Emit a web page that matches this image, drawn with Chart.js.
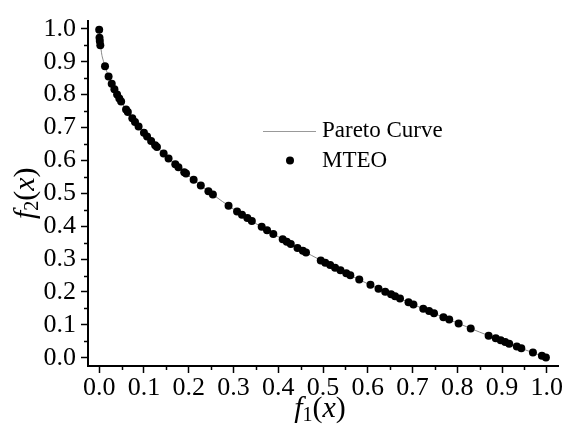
<!DOCTYPE html>
<html>
<head>
<meta charset="utf-8">
<script src="https://cdn.jsdelivr.net/npm/chart.js@4.4.0/dist/chart.umd.min.js"></script>
<style>
  html, body { margin: 0; padding: 0; background: #fff; }
  #wrap { width: 564px; height: 432px; }
</style>
</head>
<body>
<div id="wrap"><canvas id="front"></canvas></div>
<script>
// obtained solutions (f1, f2)
const mteoF1 = [0.000, 0.0007, 0.0014, 0.0025, 0.013, 0.021, 0.028, 0.034, 0.040, 0.045,
    0.049, 0.060, 0.064, 0.074, 0.080, 0.088, 0.100, 0.107, 0.116, 0.125,
    0.129, 0.144, 0.155, 0.170, 0.177, 0.190, 0.194, 0.211, 0.227, 0.244,
    0.254, 0.289, 0.308, 0.319, 0.331, 0.341, 0.363, 0.375, 0.389, 0.410,
    0.419, 0.428, 0.443, 0.455, 0.462, 0.495, 0.505, 0.516, 0.527, 0.539,
    0.552, 0.561, 0.581, 0.606, 0.624, 0.639, 0.652, 0.661, 0.672, 0.691,
    0.702, 0.724, 0.737, 0.748, 0.769, 0.782, 0.803, 0.830, 0.870, 0.886,
    0.897, 0.907, 0.916, 0.933, 0.943, 0.969, 0.989, 0.998];
const mteoF2 = [0.997, 0.973, 0.963, 0.950, 0.886, 0.855, 0.833, 0.816, 0.800, 0.788,
    0.779, 0.755, 0.747, 0.728, 0.717, 0.703, 0.684, 0.673, 0.659, 0.646,
    0.641, 0.621, 0.606, 0.588, 0.579, 0.564, 0.560, 0.541, 0.524, 0.506,
    0.496, 0.462, 0.445, 0.435, 0.425, 0.416, 0.398, 0.388, 0.376, 0.360,
    0.353, 0.346, 0.334, 0.325, 0.320, 0.296, 0.289, 0.282, 0.274, 0.266,
    0.257, 0.251, 0.238, 0.222, 0.210, 0.201, 0.193, 0.187, 0.180, 0.169,
    0.162, 0.149, 0.142, 0.135, 0.123, 0.116, 0.104, 0.089, 0.067, 0.059,
    0.053, 0.048, 0.043, 0.034, 0.029, 0.016, 0.006, 0.001];

// true pareto front
const curveF1 = [0, 0.005, 0.01, 0.02, 0.04, 0.06, 0.08, 0.10, 0.15, 0.20, 0.25, 0.30, 0.35,
    0.40, 0.45, 0.50, 0.55, 0.60, 0.65, 0.70, 0.75, 0.80, 0.85, 0.90, 0.95, 1.0];
const curveF2 = [1.0, 0.929, 0.900, 0.859, 0.800, 0.755, 0.717, 0.684, 0.613, 0.553, 0.500, 0.452, 0.408,
    0.368, 0.329, 0.293, 0.258, 0.225, 0.194, 0.163, 0.134, 0.106, 0.078, 0.051, 0.025, 0.0];

const xTicks = [0, 0.1, 0.2, 0.3, 0.4, 0.5, 0.6, 0.7, 0.8, 0.9, 1.0];
const yTicks = [0, 0.1, 0.2, 0.3, 0.4, 0.5, 0.6, 0.7, 0.8, 0.9, 1.0];
const minorTicks = [0.05, 0.15, 0.25, 0.35, 0.45, 0.55, 0.65, 0.75, 0.85, 0.95];

const serif = "'Liberation Serif', 'Times New Roman', serif";

function toPts(xs, ys) {
    return xs.map((x, i) => ({ x: x, y: ys[i] }));
}

// f, subscript, (x)
function drawLabel(ctx, sub, cx, cy) {
    const parts = [
        { t: "f", font: "italic 30px " + serif, dy: 0 },
        { t: sub, font: "20px " + serif, dy: 7 },
        { t: "(", font: "30px " + serif, dy: 0 },
        { t: "x", font: "italic 30px " + serif, dy: 0 },
        { t: ")", font: "30px " + serif, dy: 0 },
    ];
    let w = 0;
    parts.forEach((p) => {
        ctx.font = p.font;
        p.w = ctx.measureText(p.t).width;
        w += p.w;
    });
    let x = cx - w / 2;
    ctx.textBaseline = "middle";
    ctx.textAlign = "left";
    parts.forEach((p) => {
        ctx.font = p.font;
        ctx.fillText(p.t, x, cy + p.dy);
        x += p.w;
    });
}

const extras = {
    id: "extras",
    afterDraw(chart) {
        const ctx = chart.ctx;
        const xs = chart.scales.x;
        const ys = chart.scales.y;
        const area = chart.chartArea;
        ctx.save();
        ctx.strokeStyle = "#000";
        ctx.lineWidth = 1.5;
        // minor ticks
        minorTicks.forEach((v) => {
            const px = Math.round(xs.getPixelForValue(v)) + 0.5;
            ctx.beginPath();
            ctx.moveTo(px, area.bottom);
            ctx.lineTo(px, area.bottom + 4);
            ctx.stroke();
            const py = Math.round(ys.getPixelForValue(v)) + 0.5;
            ctx.beginPath();
            ctx.moveTo(area.left, py);
            ctx.lineTo(area.left - 4, py);
            ctx.stroke();
        });

        ctx.fillStyle = "#000";
        // axis titles
        drawLabel(ctx, "1", (area.left + area.right) / 2 - 3, 409);
        ctx.save();
        ctx.translate(26, (area.top + area.bottom) / 2);
        ctx.rotate(-Math.PI / 2);
        drawLabel(ctx, "2", 0, 0);
        ctx.restore();

        // legend
        ctx.strokeStyle = "#999";
        ctx.lineWidth = 1;
        ctx.beginPath();
        ctx.moveTo(263, 131.5);
        ctx.lineTo(316, 131.5);
        ctx.stroke();
        ctx.beginPath();
        ctx.arc(290, 160.5, 4, 0, Math.PI * 2);
        ctx.fill();
        ctx.font = "23px " + serif;
        ctx.textAlign = "left";
        ctx.textBaseline = "middle";
        ctx.fillText("Pareto Curve", 322, 131);
        ctx.fillText("MTEO", 322, 161);
        ctx.restore();
    },
};

const ctx = document.getElementById("front").getContext("2d");

const tickFont = { family: serif, size: 26 };

const config = {
    type: "scatter",
    data: {
        datasets: [
            {
                label: "MTEO",
                data: toPts(mteoF1, mteoF2),
                pointRadius: 4,
                pointBackgroundColor: "#000",
                pointBorderWidth: 0,
                order: 1,
            },
            {
                label: "Pareto Curve",
                data: toPts(curveF1, curveF2),
                showLine: true,
                pointRadius: 0,
                borderColor: "#888",
                borderWidth: 1,
                cubicInterpolationMode: "monotone",
                order: 2,
            },
        ],
    },
    options: {
        responsive: true,
        maintainAspectRatio: false,
        animation: false,
        layout: { padding: { top: 7, right: 6, left: 0, bottom: 0 } },
        plugins: {
            legend: { display: false },
            tooltip: { enabled: false },
        },
        scales: {
            x: {
                type: "linear",
                min: -0.025,
                max: 1.025,
                afterFit: (s) => { s.height = 66; },
                afterBuildTicks: (s) => { s.ticks = xTicks.map((v) => ({ value: v })); },
                border: { display: true, color: "#000", width: 2 },
                grid: { drawOnChartArea: false, color: "#000", tickLength: 7, tickWidth: 1.5 },
                ticks: {
                    color: "#000",
                    font: tickFont,
                    padding: 0,
                    maxRotation: 0,
                    autoSkip: false,
                    callback: (v) => Number(v).toFixed(1),
                },
            },
            y: {
                type: "linear",
                min: -0.025,
                max: 1.025,
                afterFit: (s) => { s.width = 88; },
                afterBuildTicks: (s) => { s.ticks = yTicks.map((v) => ({ value: v })); },
                border: { display: true, color: "#000", width: 2 },
                grid: { drawOnChartArea: false, color: "#000", tickLength: 7, tickWidth: 1.5 },
                ticks: {
                    color: "#000",
                    font: tickFont,
                    padding: 5,
                    autoSkip: false,
                    callback: (v) => Number(v).toFixed(1),
                },
            },
        },
    },
    plugins: [extras],
};

const chart = new Chart(ctx, config);
</script>
</body>
</html>
